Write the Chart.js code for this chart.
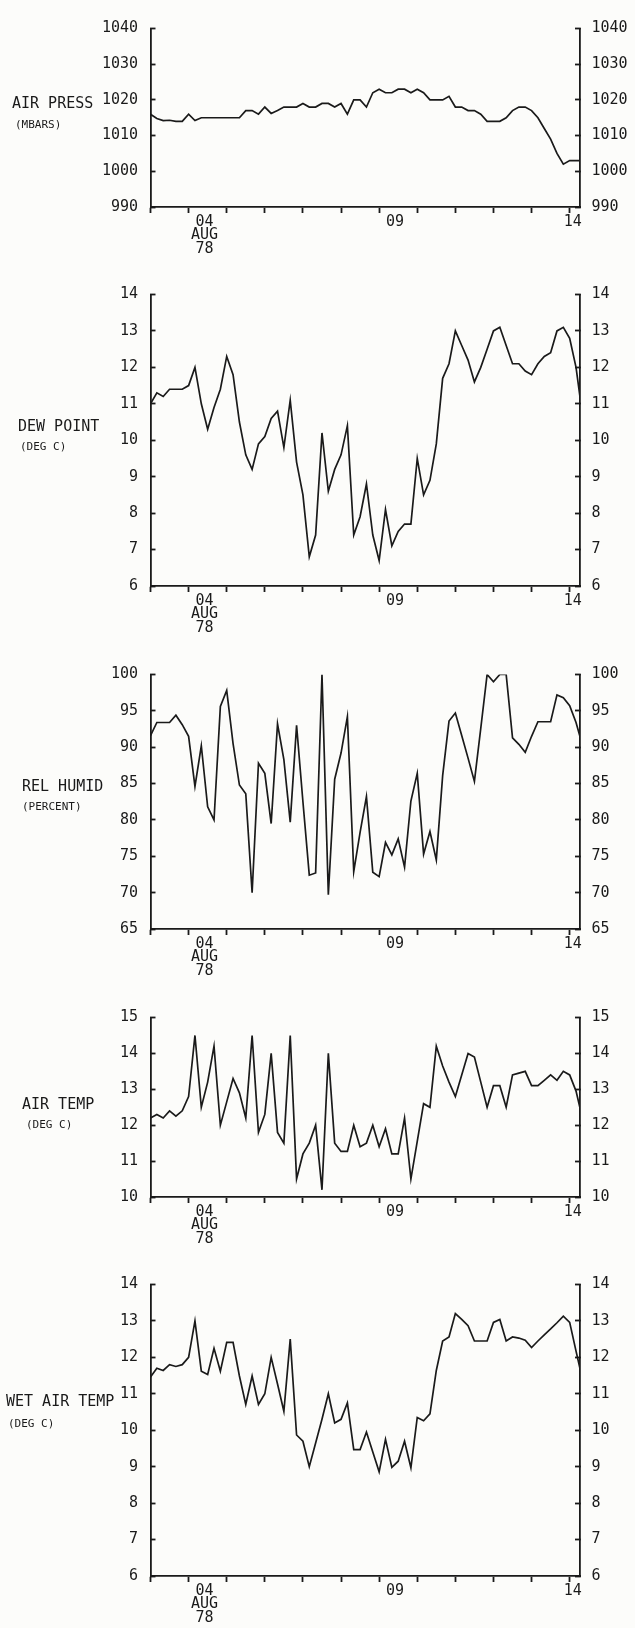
<!DOCTYPE html>
<html>
<head>
<meta charset="utf-8">
<title>Surface observations, August 1978</title>
<script src="https://cdn.jsdelivr.net/npm/chart.js"></script>
<style>
    body { margin: 0; background: #fcfcfa; overflow: hidden; }
    #page { position: relative; width: 635px; height: 1628px; font-family: 'DejaVu Sans Mono', monospace; color: #1a1a1a; }
    #page canvas { position: absolute; left: 0; }
    .name { position: absolute; font-size: 15px; line-height: 15px; white-space: pre; }
    .unit { position: absolute; font-size: 11px; line-height: 11px; white-space: pre; }
</style>
</head>
<body>
<div id="page"></div>
<script>
// hours since 00Z 3 Aug 1978, one reading every 4 hours
const hours = [0, 4, 8, 12, 16, 20, 24, 28, 32, 36, 40, 44, 48, 52, 56, 60, 64, 68, 72, 76,
    80, 84, 88, 92, 96, 100, 104, 108, 112, 116, 120, 124, 128, 132, 136, 140, 144, 148, 152, 156,
    160, 164, 168, 172, 176, 180, 184, 188, 192, 196, 200, 204, 208, 212, 216, 220, 224, 228, 232, 236,
    240, 244, 248, 252, 256, 260, 264, 268, 272];

const airPress = [1016, 1014.8, 1014.2, 1014.3, 1014, 1014, 1016, 1014.2, 1015, 1015,
    1015, 1015, 1015, 1015, 1015, 1017, 1017, 1016, 1018, 1016.2,
    1017, 1018, 1018, 1018, 1019, 1018, 1018, 1019, 1019, 1018,
    1019, 1016, 1020, 1020, 1018, 1022, 1023, 1022, 1022, 1023,
    1023, 1022, 1023, 1022, 1020, 1020, 1020, 1021, 1018, 1018,
    1017, 1017, 1016, 1014, 1014, 1014, 1015, 1017, 1018, 1018,
    1017, 1015, 1012, 1009, 1005, 1002, 1003, 1003, 1003];

const dewPoint = [11.0, 11.3, 11.2, 11.4, 11.4, 11.4, 11.5, 12.0, 11.0, 10.3,
    10.9, 11.4, 12.3, 11.8, 10.5, 9.6, 9.2, 9.9, 10.1, 10.6,
    10.8, 9.8, 11.1, 9.4, 8.5, 6.8, 7.4, 10.2, 8.6, 9.2,
    9.6, 10.4, 7.4, 7.9, 8.8, 7.4, 6.7, 8.1, 7.1, 7.5,
    7.7, 7.7, 9.5, 8.5, 8.9, 9.9, 11.7, 12.1, 13.0, 12.6,
    12.2, 11.6, 12.0, 12.5, 13.0, 13.1, 12.6, 12.1, 12.1, 11.9,
    11.8, 12.1, 12.3, 12.4, 13.0, 13.1, 12.8, 12.0, 10.7];

const relHumid = [91.6, 93.4, 93.4, 93.4, 94.4, 93.1, 91.5, 84.6, 90.2, 81.8,
    80.0, 95.6, 97.8, 90.5, 84.8, 83.6, 70.0, 87.8, 86.4, 79.5,
    93.2, 88.3, 79.7, 93.0, 82.5, 72.4, 72.7, 100, 69.7, 85.6,
    89.2, 94.2, 72.9, 78.3, 83.2, 72.8, 72.2, 76.9, 75.2, 77.4,
    73.5, 82.6, 86.4, 75.3, 78.4, 74.5, 86.1, 93.6, 94.7, 91.6,
    88.5, 85.3, 92.6, 100, 99.0, 100, 100, 91.3, 90.4, 89.3,
    91.5, 93.5, 93.5, 93.5, 97.2, 96.8, 95.7, 93.4, 90.3];

const airTemp = [12.2, 12.3, 12.2, 12.4, 12.25, 12.4, 12.8, 14.5, 12.5, 13.2,
    14.2, 12.0, 12.65, 13.3, 12.9, 12.2, 14.5, 11.8, 12.3, 14.0,
    11.8, 11.5, 14.5, 10.5, 11.2, 11.5, 12.0, 10.2, 14.0, 11.5,
    11.27, 11.27, 12.0, 11.4, 11.5, 12.0, 11.4, 11.9, 11.2, 11.2,
    12.2, 10.5, 11.55, 12.6, 12.5, 14.2, 13.65, 13.2, 12.8, 13.4,
    14.0, 13.9, 13.2, 12.5, 13.1, 13.1, 12.5, 13.4, 13.45, 13.5,
    13.1, 13.1, 13.25, 13.4, 13.25, 13.5, 13.4, 12.95, 12.2];

const wetAirTemp = [11.46, 11.7, 11.64, 11.8, 11.75, 11.8, 12.0, 13.0, 11.62, 11.53,
    12.25, 11.62, 12.41, 12.41, 11.49, 10.71, 11.49, 10.71, 11.0, 12.0,
    11.27, 10.52, 12.5, 9.87, 9.7, 9.0, 9.65, 10.3, 11.0, 10.2,
    10.3, 10.75, 9.47, 9.47, 9.95, 9.4, 8.86, 9.75, 8.98, 9.15,
    9.7, 8.97, 10.35, 10.26, 10.45, 11.64, 12.45, 12.56, 13.2, 13.04,
    12.87, 12.45, 12.45, 12.45, 12.96, 13.04, 12.45, 12.56, 12.53, 12.47,
    12.27, 12.45, 12.62, 12.78, 12.95, 13.13, 12.96, 12.17, 11.4];

// day boundaries get tick marks, the date labels sit a little later in the day
const dayTicks = [0, 24, 48, 72, 96, 120, 144, 168, 192, 216, 240, 264];
const labelHours = [34, 154, 266];
const dayLabels = [['04', 'AUG', '78'], ['09'], ['14']];
const xMax = 270.5;

const ink = '#1a1a1a';
const mono = 'DejaVu Sans Mono';

const panels = [
    { name: 'AIR PRESS', unit: '(MBARS)', values: airPress, min: 990, max: 1040, step: 10,
      top: 17, bottom: 207, nameAt: [12, 103.5], unitAt: [15, 124] },
    { name: 'DEW POINT', unit: '(DEG C)', values: dewPoint, min: 6, max: 14, step: 1,
      top: 283, bottom: 586, nameAt: [18, 426.7], unitAt: [20, 446] },
    { name: 'REL HUMID', unit: '(PERCENT)', values: relHumid, min: 65, max: 100, step: 5,
      top: 663, bottom: 929, nameAt: [22, 786.7], unitAt: [22, 806] },
    { name: 'AIR TEMP', unit: '(DEG C)', values: airTemp, min: 10, max: 15, step: 1,
      top: 1006, bottom: 1197, nameAt: [22, 1104.7], unitAt: [26, 1124.7] },
    { name: 'WET AIR TEMP', unit: '(DEG C)', values: wetAirTemp, min: 6, max: 14, step: 1,
      top: 1273, bottom: 1576, nameAt: [6, 1401.7], unitAt: [8, 1423] }
];

const page = document.getElementById('page');

function addText(cls, text, x, cy, lift) {
    const div = document.createElement('div');
    div.className = cls;
    div.textContent = text;
    div.style.left = x + 'px';
    div.style.top = (cy - lift) + 'px';
    page.appendChild(div);
}

function yAxis(p, side) {
    return {
        position: side,
        min: p.min,
        max: p.max,
        afterFit: s => { s.width = side === 'left' ? 150.5 : 55; },
        ticks: {
            stepSize: p.step,
            padding: side === 'left' ? 17.5 : 16.5,
            color: ink,
            font: { family: mono, size: 15 },
            callback: v => String(v)
        },
        // negative length puts the tick marks inside the frame
        grid: { drawOnChartArea: false, drawTicks: true, tickLength: -5, tickWidth: 1.8, tickColor: ink },
        border: { color: ink, width: 1.8 }
    };
}

function makePanel(p) {
    const padTop = 15;
    const below = 62;
    const canvas = document.createElement('canvas');
    canvas.width = 635;
    canvas.height = (p.bottom - p.top) + padTop + below;
    canvas.style.top = (p.top - padTop) + 'px';
    page.appendChild(canvas);

    new Chart(canvas, {
        type: 'line',
        data: {
            datasets: [{
                data: hours.map((h, i) => ({ x: h, y: p.values[i] })),
                borderColor: ink,
                borderWidth: 1.7,
                pointRadius: 0,
                tension: 0
            }]
        },
        options: {
            responsive: false,
            animation: false,
            events: [],
            layout: { padding: { top: padTop, left: 0, right: 0, bottom: 0 } },
            plugins: { legend: { display: false }, tooltip: { enabled: false } },
            scales: {
                x: {
                    type: 'linear',
                    position: 'bottom',
                    weight: 0,
                    min: 0,
                    max: xMax,
                    afterBuildTicks: s => { s.ticks = dayTicks.map(v => ({ value: v })); },
                    afterFit: s => { s.height = 6; },
                    ticks: { display: false },
                    grid: { drawOnChartArea: false, drawTicks: true, tickLength: 6, tickWidth: 1.8, tickColor: ink },
                    border: { color: ink, width: 1.8 }
                },
                xl: {
                    type: 'linear',
                    position: 'bottom',
                    weight: 1,
                    min: 0,
                    max: xMax,
                    afterBuildTicks: s => { s.ticks = labelHours.map(v => ({ value: v })); },
                    afterFit: s => { s.height = below - 6; },
                    ticks: {
                        autoSkip: false,
                        maxRotation: 0,
                        padding: 2,
                        color: ink,
                        font: { family: mono, size: 15, lineHeight: 0.9 },
                        callback: (v, i) => dayLabels[i]
                    },
                    grid: { display: false, drawTicks: false, tickLength: 0 },
                    border: { display: false }
                },
                y: yAxis(p, 'left'),
                y2: yAxis(p, 'right')
            }
        }
    });

    addText('name', p.name, p.nameAt[0], p.nameAt[1], 7.3);
    addText('unit', p.unit, p.unitAt[0], p.unitAt[1], 5.3);
}

panels.forEach(makePanel);
</script>
</body>
</html>
